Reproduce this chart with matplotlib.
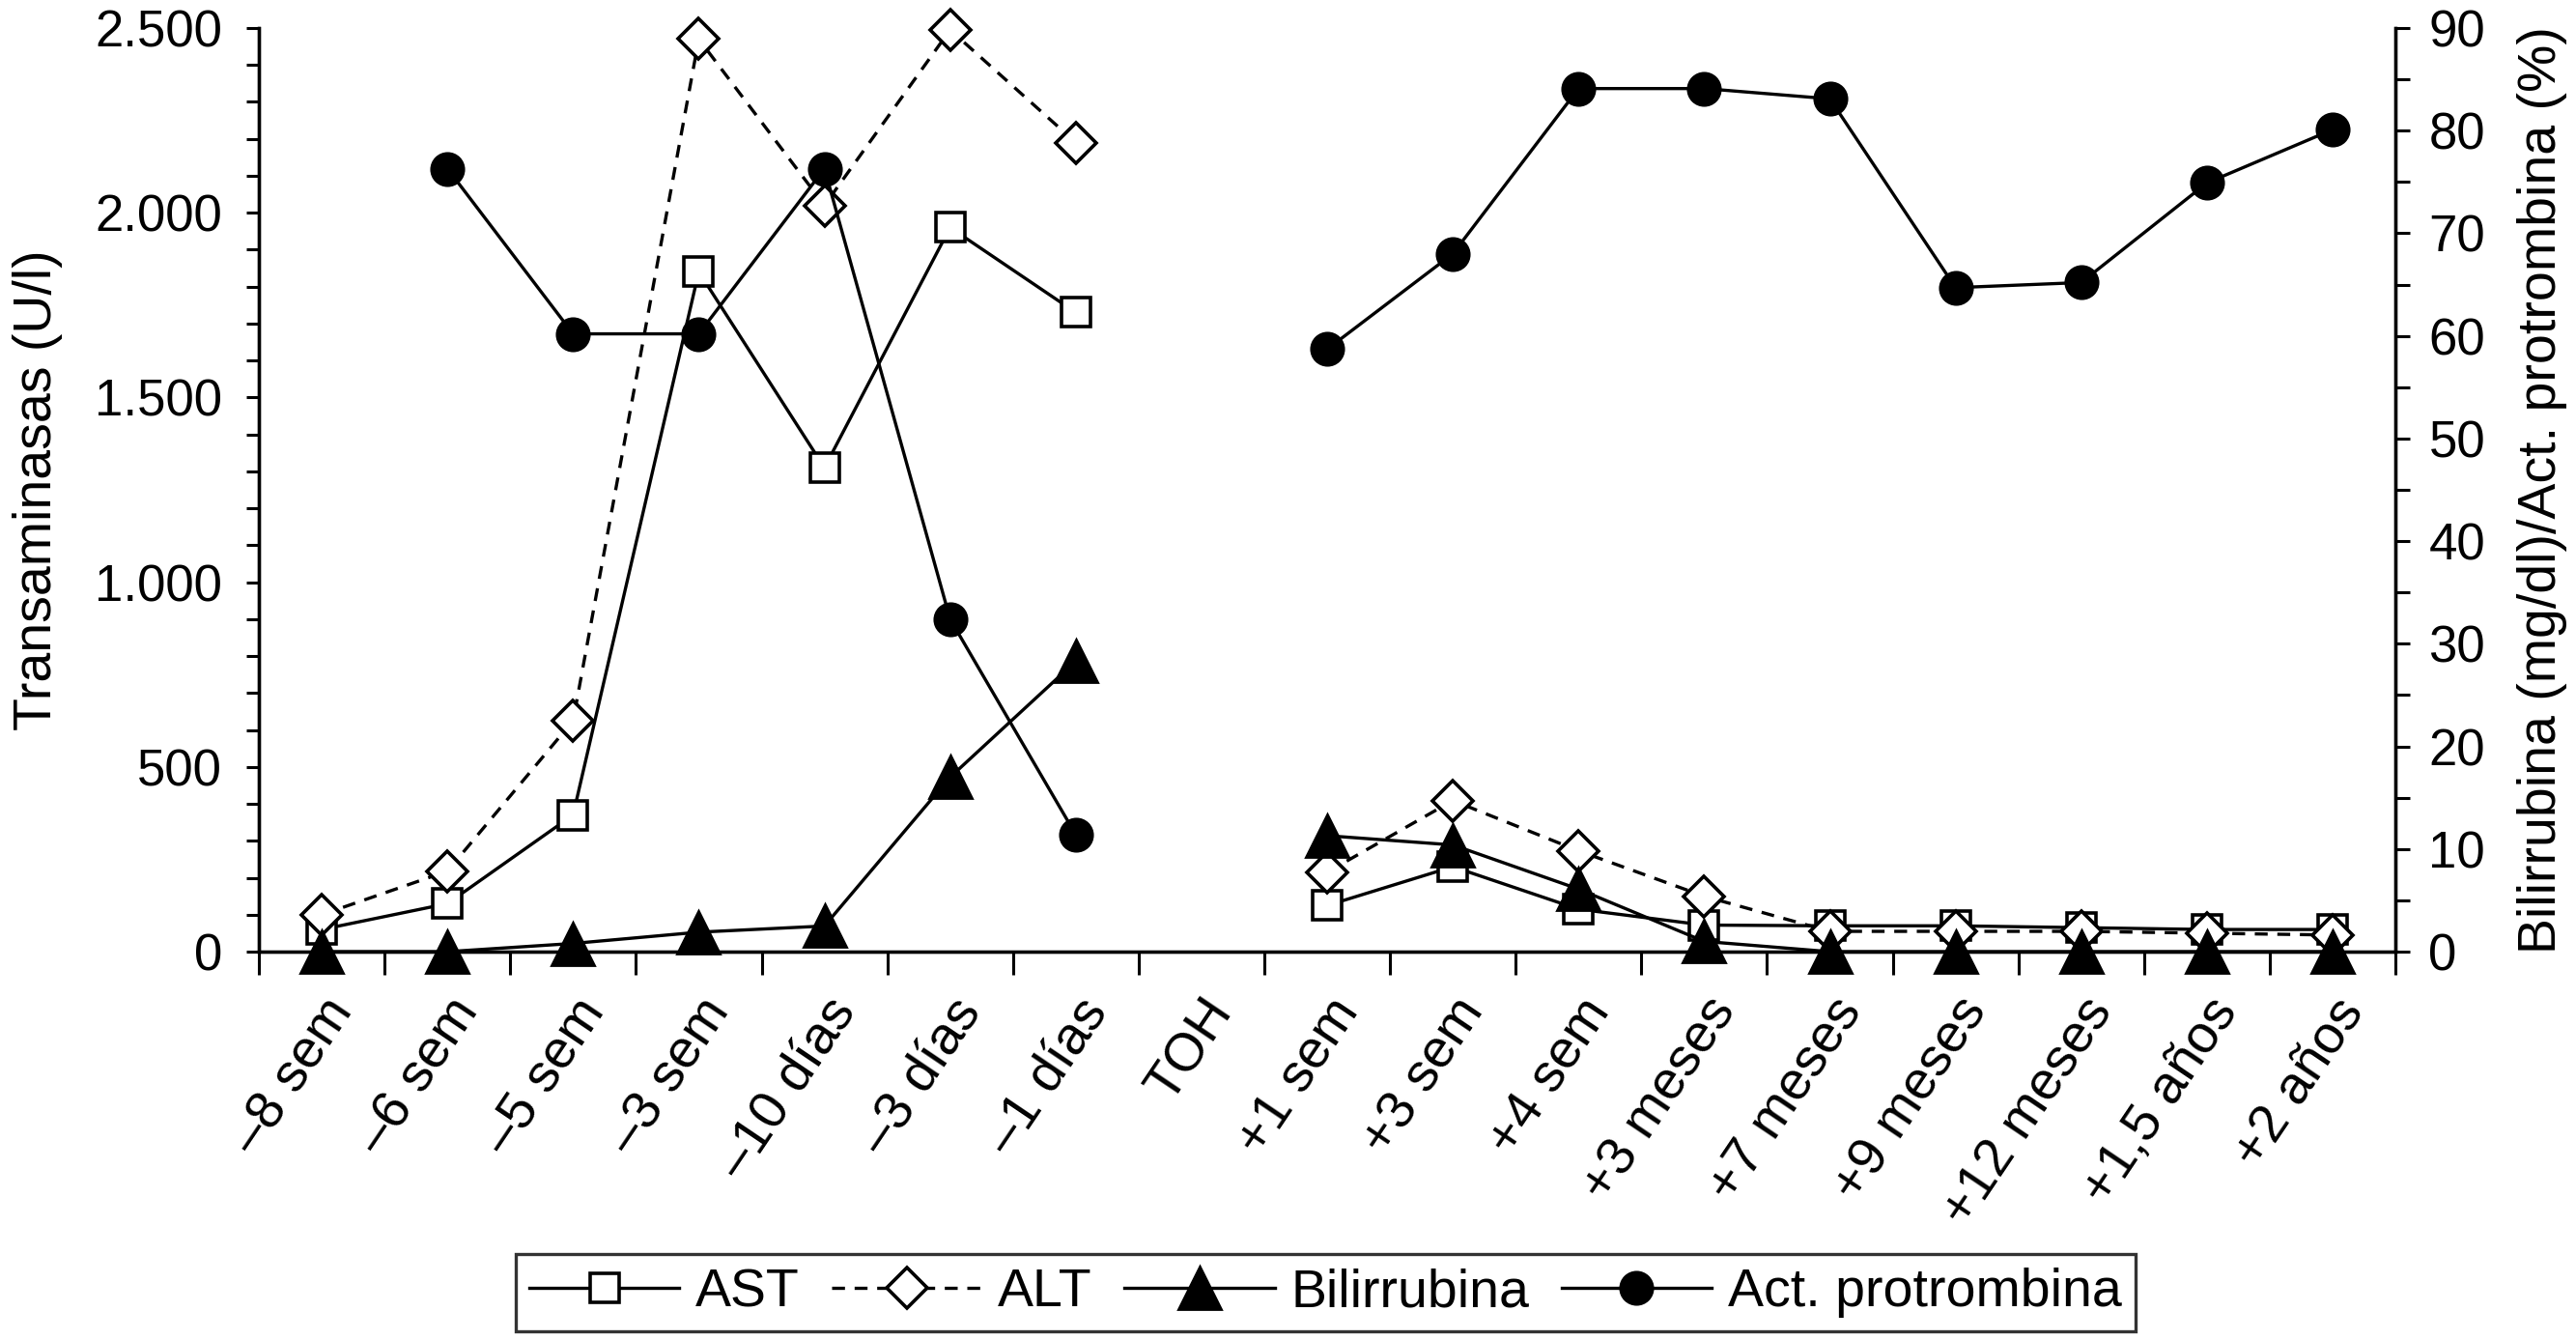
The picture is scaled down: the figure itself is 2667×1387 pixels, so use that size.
import numpy as np
import matplotlib
matplotlib.use("Agg")
import matplotlib.pyplot as plt
from matplotlib.ticker import MultipleLocator, FixedLocator

plt.rcParams['font.family'] = ['Liberation Sans', 'DejaVu Sans']

nan = np.nan
categories = ["–8 sem", "–6 sem", "–5 sem", "–3 sem", "–10 días", "–3 días", "–1 días", "TOH",
              "+1 sem", "+3 sem", "+4 sem", "+3 meses", "+7 meses", "+9 meses", "+12 meses",
              "+1,5 años", "+2 años"]
ast = [60, 130, 370, 1840, 1310, 1960, 1730, nan, 125, 230, 115, 72, 70, 70, 65, 60, 60]
alt = [100, 218, 625, 2470, 2020, 2495, 2190, nan, 215, 409, 273, 150, 55, 55, 55, 50, 45]
bilirrubina = [0, 0, 0.8, 1.9, 2.5, 17.0, 28.3, nan, 11.3, 10.4, 6.1, 1.0, 0, 0, 0, 0, 0]
protrombina = [nan, 76.3, 60.2, 60.2, 76.3, 32.4, 11.4, nan, 58.7, 68.0, 84.1, 84.1, 83.1,
               64.7, 65.2, 74.9, 80.1]
left_ticks = [0, 500, 1000, 1500, 2000, 2500]
left_ticklabels = ["0", "500", "1.000", "1.500", "2.000", "2.500"]
right_ticks = [0, 10, 20, 30, 40, 50, 60, 70, 80, 90]

fig = plt.figure(figsize=(13.335, 6.935), dpi=200)
ax = fig.add_axes([0.1005, 0.2898, 0.9299 - 0.1005, 0.9791 - 0.2898])
ax2 = ax.twinx()

x = np.arange(len(categories))
lw = 1.2
l1, = ax.plot(x, ast, color='black', lw=lw, marker='s', ms=11, mfc='white', mec='black',
              mew=1.3, label='AST', clip_on=False, zorder=3)
l2, = ax.plot(x, alt, color='black', lw=lw, ls=(0, (4, 3)), marker='D', ms=10.5, mfc='white',
              mec='black', mew=1.3, label='ALT', clip_on=False, zorder=3)
l3, = ax2.plot(x, bilirrubina, color='black', lw=lw, marker='^', ms=16, mfc='black',
               mec='black', label='Bilirrubina', clip_on=False, zorder=3)
l4, = ax2.plot(x, protrombina, color='black', lw=lw, marker='o', ms=12, mfc='black',
               mec='black', label='Act. protrombina', clip_on=False, zorder=3)

ax.set_xlim(-0.5, len(categories) - 0.5)
ax.set_ylim(0, 2500)
ax2.set_ylim(0, 90)

# y axes
ax.set_yticks(left_ticks)
ax.set_yticklabels(left_ticklabels, fontsize=19)
ax.yaxis.set_minor_locator(MultipleLocator(100))
ax.tick_params(axis='y', which='both', direction='out', length=4.7, width=1.1, pad=9)
ax2.set_yticks(right_ticks)
ax2.set_yticklabels([str(t) for t in right_ticks], fontsize=19)
ax2.yaxis.set_minor_locator(MultipleLocator(5))
ax2.tick_params(axis='y', which='both', direction='out', length=5.4, width=1.1, pad=7)

# x axis: ticks at boundaries, labels at centres
ax.xaxis.set_major_locator(FixedLocator(np.arange(-0.5, len(categories), 1.0)))
ax.xaxis.set_minor_locator(FixedLocator(x))
ax.set_xticklabels([], minor=False)
ax.set_xticklabels(categories, minor=True, fontsize=20, rotation=56, ha='right', va='top',
                   rotation_mode='anchor')
ax.tick_params(axis='x', which='major', direction='out', length=8.5, width=1.1)
ax.tick_params(axis='x', which='minor', length=0, pad=14)

for a in (ax, ax2):
    a.spines['top'].set_visible(False)
    for s in ('left', 'right', 'bottom'):
        a.spines[s].set_linewidth(1.2)

ax.set_ylabel("Transaminasas (U/l)", fontsize=20, labelpad=12)
ax2.set_ylabel("Bilirrubina (mg/dl)/Act. protrombina (%)", fontsize=20, labelpad=12,
               rotation=90)

leg = fig.legend(handles=[l1, l2, l3, l4], loc='center', bbox_to_anchor=(0.5145, 0.0353),
                 ncol=4, fontsize=20, frameon=True, fancybox=False, handlelength=2.8,
                 handletextpad=0.3, columnspacing=0.6, borderpad=0.25)
leg.get_frame().set_edgecolor('black')
leg.get_frame().set_linewidth(1.2)

fig.savefig("out.png", dpi=200)
